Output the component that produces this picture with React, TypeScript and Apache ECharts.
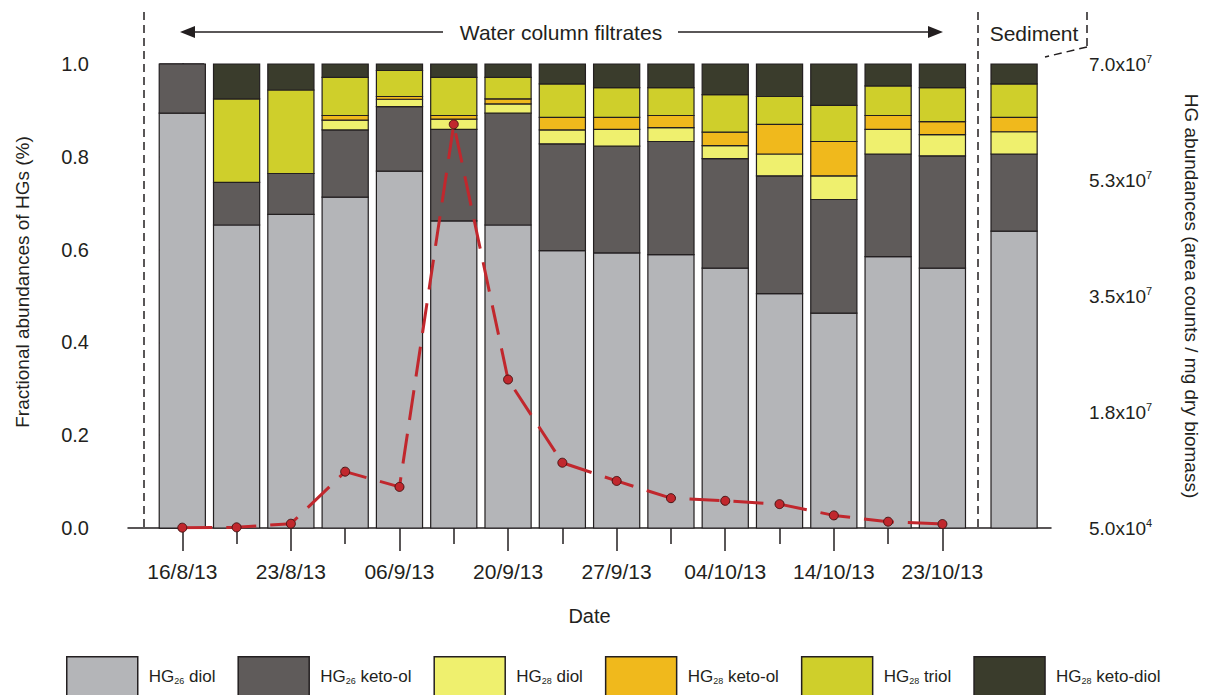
import { useEffect, useRef } from 'react';
import * as echarts from 'echarts';

// Sampling dates of the 15 water column filtrates (only every other one is labelled)
const sampleDates = [
  '16/8/13', '', '23/8/13', '', '06/9/13', '', '20/9/13', '',
  '27/9/13', '', '04/10/13', '', '14/10/13', '', '23/10/13',
];

const seriesNames = [
  'HG26 diol', 'HG26 keto-ol', 'HG28 diol', 'HG28 keto-ol', 'HG28 triol', 'HG28 keto-diol',
];

// Fractional abundances: 15 filtrates followed by the sediment sample
const hg26Diol = [0.894, 0.653, 0.676, 0.713, 0.769, 0.662, 0.653, 0.598, 0.593, 0.589, 0.560, 0.505, 0.463, 0.585, 0.560, 0.640];
const hg26KetoOl = [0.106, 0.092, 0.088, 0.145, 0.139, 0.197, 0.241, 0.230, 0.230, 0.244, 0.236, 0.254, 0.245, 0.221, 0.242, 0.166];
const hg28Diol = [0, 0, 0, 0.021, 0.016, 0.022, 0.020, 0.030, 0.036, 0.030, 0.028, 0.047, 0.051, 0.053, 0.046, 0.048];
const hg28KetoOl = [0, 0, 0, 0.010, 0.006, 0.008, 0.011, 0.027, 0.026, 0.026, 0.029, 0.064, 0.074, 0.030, 0.028, 0.031];
const hg28Triol = [0, 0.180, 0.180, 0.082, 0.056, 0.082, 0.046, 0.072, 0.064, 0.060, 0.081, 0.060, 0.078, 0.064, 0.073, 0.072];
const hg28KetoDiol = [0, 0.075, 0.056, 0.029, 0.014, 0.029, 0.029, 0.043, 0.051, 0.051, 0.066, 0.070, 0.089, 0.047, 0.051, 0.043];

// Total HG abundance (area counts / mg dry biomass) in the filtrates
const hgAbundance = [5e4, 1e5, 6.5e5, 8.5e6, 6.2e6, 6.09e7, 2.24e7, 9.85e6, 7.1e6, 4.5e6, 4.1e6, 3.6e6, 1.9e6, 9.5e5, 6.0e5];

const leftTickLabels = ['0.0', '0.2', '0.4', '0.6', '0.8', '1.0'];
const rightTickLabels = ['5.0x10{sup|4}', '1.8x10{sup|7}', '3.5x10{sup|7}', '5.3x10{sup|7}', '7.0x10{sup|7}'];

const seriesColors = ['#b4b5b8', '#5f5b5a', '#eff06e', '#f0b91c', '#cfcf2b', '#3a3c2c'];

const FONT = '"Liberation Sans", Arial, Helvetica, sans-serif';
const INK = '#231f20';
const SEDIMENT_OFFSET = 1.32; // extra spacing before the sediment bar
const BAR_SPAN = 0.85; // bar width as a fraction of the sample spacing

export default function App() {
  const ref = useRef<HTMLDivElement>(null);

  useEffect(() => {
    if (!ref.current) return;
    const chart = echarts.init(ref.current, null, { renderer: 'svg' });

    const nWater = sampleDates.length;
    const xPos = hg26Diol.map((_, i) => (i < nWater ? i : nWater - 1 + SEDIMENT_OFFSET));
    const layers = [hg26Diol, hg26KetoOl, hg28Diol, hg28KetoOl, hg28Triol, hg28KetoDiol];

    const evenIdx = sampleDates.map((_, i) => i).filter((i) => i % 2 === 0);
    const oddIdx = sampleDates.map((_, i) => i).filter((i) => i % 2 === 1);

    // Each layer is drawn on top of the running total of the layers below it
    const base = hg26Diol.map(() => 0);
    const barSeries = layers.map((vals, k) => {
      const data = vals.map((v, i) => {
        const item = [xPos[i], base[i], base[i] + v];
        base[i] += v;
        return item;
      });
      const color = seriesColors[k];
      return {
        name: seriesNames[k],
        type: 'custom',
        xAxisIndex: 0,
        yAxisIndex: 0,
        encode: { x: 0, y: [1, 2] },
        data,
        itemStyle: { color, borderColor: INK, borderWidth: 1.2 },
        renderItem: (_params: any, api: any) => {
          const x = api.value(0);
          const y0 = api.value(1);
          const y1 = api.value(2);
          if (y1 - y0 <= 0) return null;
          const pBottom = api.coord([x, y0]);
          const pTop = api.coord([x, y1]);
          const w = api.size([BAR_SPAN, 0])[0];
          return {
            type: 'rect',
            shape: { x: pBottom[0] - w / 2, y: pTop[1], width: w, height: pBottom[1] - pTop[1] },
            style: { fill: color, stroke: INK, lineWidth: 1.2 },
          };
        },
        silent: true,
      };
    });

    const lineSeries = {
      name: 'HG abundance',
      type: 'line',
      xAxisIndex: 0,
      yAxisIndex: 1,
      data: hgAbundance.map((v, i) => [i, v]),
      symbol: 'circle',
      symbolSize: 9,
      lineStyle: { color: '#c1272d', width: 3, type: [30, 14] },
      itemStyle: { color: '#c1272d', borderColor: '#4a1414', borderWidth: 1 },
      z: 5,
      silent: true,
    };

    const dashed = { stroke: INK, lineWidth: 1.5, lineDash: [8, 5] };
    const solid = { stroke: INK, lineWidth: 1.5 };

    const option: any = {
      animation: false,
      textStyle: { fontFamily: FONT, color: INK },
      grid: { left: 128, right: 155, top: 64, bottom: 167, containLabel: false, outerBoundsMode: 'none' },
      legend: {
        data: seriesNames,
        left: 66,
        top: 656,
        padding: 0,
        itemWidth: 71,
        itemHeight: 40,
        itemGap: 22,
        icon: 'rect',
        selectedMode: false,
        itemStyle: { borderColor: INK, borderWidth: 1.5 },
        formatter: (name: string) => name.replace(/^HG(\d+)/, 'HG{sub|$1}'),
        textStyle: {
          fontFamily: FONT,
          fontSize: 17,
          color: INK,
          padding: [0, 0, 0, 6],
          rich: {
            sub: { fontSize: 9, fontFamily: FONT, color: INK, verticalAlign: 'bottom', padding: [6, 0, 0, 0] },
          },
        },
      },
      xAxis: [
        {
          type: 'value',
          min: -1,
          max: 16,
          interval: 1,
          name: 'Date',
          nameLocation: 'middle',
          nameGap: 78,
          nameTextStyle: { fontFamily: FONT, fontSize: 20, color: INK },
          axisLine: { show: true, onZero: false, lineStyle: { color: INK, width: 1.5 } },
          axisTick: { show: true, length: 23, customValues: evenIdx, lineStyle: { color: INK, width: 1.5 } },
          axisLabel: {
            customValues: evenIdx,
            margin: 33,
            fontFamily: FONT,
            fontSize: 21,
            color: INK,
            formatter: (v: number) => sampleDates[Math.round(v)] ?? '',
          },
          splitLine: { show: false },
        },
        {
          type: 'value',
          min: -1,
          max: 16,
          interval: 1,
          position: 'bottom',
          axisLine: { show: false },
          axisTick: { show: true, length: 16, customValues: oddIdx, lineStyle: { color: INK, width: 1.5 } },
          axisLabel: { show: false },
          splitLine: { show: false },
        },
      ],
      yAxis: [
        {
          type: 'value',
          min: 0,
          max: 1,
          interval: 0.2,
          position: 'left',
          name: 'Fractional abundances of HGs (%)',
          nameLocation: 'middle',
          nameGap: 96,
          nameTextStyle: { fontFamily: FONT, fontSize: 19, color: INK, padding: [0, 0, 0, 28] },
          axisLine: { show: true, lineStyle: { color: INK, width: 1.5 } },
          axisTick: { show: true, length: 23, lineStyle: { color: INK, width: 1.5 } },
          minorTick: { show: true, splitNumber: 2, length: 16, lineStyle: { color: INK, width: 1.5 } },
          axisLabel: {
            margin: 39,
            fontFamily: FONT,
            fontSize: 20,
            color: INK,
            formatter: (v: number) => leftTickLabels[Math.round(v / 0.2)] ?? '',
          },
          splitLine: { show: false },
          minorSplitLine: { show: false },
        },
        {
          type: 'value',
          min: 0,
          max: 7e7,
          interval: 1.75e7,
          position: 'right',
          name: 'HG abundances (area counts / mg dry biomass)',
          nameLocation: 'middle',
          nameRotate: -90,
          nameGap: 131,
          nameTextStyle: { fontFamily: FONT, fontSize: 19, color: INK },
          axisLine: { show: true, lineStyle: { color: INK, width: 1.5 } },
          axisTick: { show: true, length: 22, lineStyle: { color: INK, width: 1.5 } },
          minorTick: { show: true, splitNumber: 2, length: 15, lineStyle: { color: INK, width: 1.5 } },
          axisLabel: {
            margin: 38,
            fontFamily: FONT,
            fontSize: 19,
            color: INK,
            lineHeight: 22,
            formatter: (v: number) => rightTickLabels[Math.round(v / 1.75e7)] ?? '',
            rich: {
              sup: { fontSize: 11, fontFamily: FONT, color: INK, verticalAlign: 'top', padding: [0, 0, 10, 0] },
            },
          },
          splitLine: { show: false },
          minorSplitLine: { show: false },
        },
      ],
      graphic: {
        elements: [
          // separators between filtrates and sediment
          { type: 'line', shape: { x1: 144, y1: 12, x2: 144, y2: 528 }, style: dashed, silent: true },
          { type: 'line', shape: { x1: 978, y1: 12, x2: 978, y2: 528 }, style: dashed, silent: true },
          { type: 'line', shape: { x1: 1087, y1: 12, x2: 1087, y2: 47 }, style: dashed, silent: true },
          { type: 'line', shape: { x1: 1087, y1: 47, x2: 1045, y2: 57 }, style: dashed, silent: true },
          // double-ended arrow around the section title
          { type: 'line', shape: { x1: 190, y1: 32, x2: 443, y2: 32 }, style: solid, silent: true },
          { type: 'polygon', shape: { points: [[180, 32], [195, 26], [195, 38]] }, style: { fill: INK }, silent: true },
          { type: 'line', shape: { x1: 678, y1: 32, x2: 933, y2: 32 }, style: solid, silent: true },
          { type: 'polygon', shape: { points: [[943, 32], [928, 26], [928, 38]] }, style: { fill: INK }, silent: true },
          {
            type: 'text',
            x: 561,
            y: 32,
            style: { text: 'Water column filtrates', font: `21px ${FONT}`, fill: INK, align: 'center', verticalAlign: 'middle' },
            silent: true,
          },
          {
            type: 'text',
            x: 1034,
            y: 33,
            style: { text: 'Sediment', font: `21px ${FONT}`, fill: INK, align: 'center', verticalAlign: 'middle' },
            silent: true,
          },
        ],
      },
      series: [...barSeries, lineSeries],
    };

    chart.setOption(option);
    return () => chart.dispose();
  }, []);

  return (
    <div
      ref={ref}
      style={{ position: 'absolute', left: 0, top: 0, width: 1206, height: 695, background: '#ffffff' }}
    />
  );
}
